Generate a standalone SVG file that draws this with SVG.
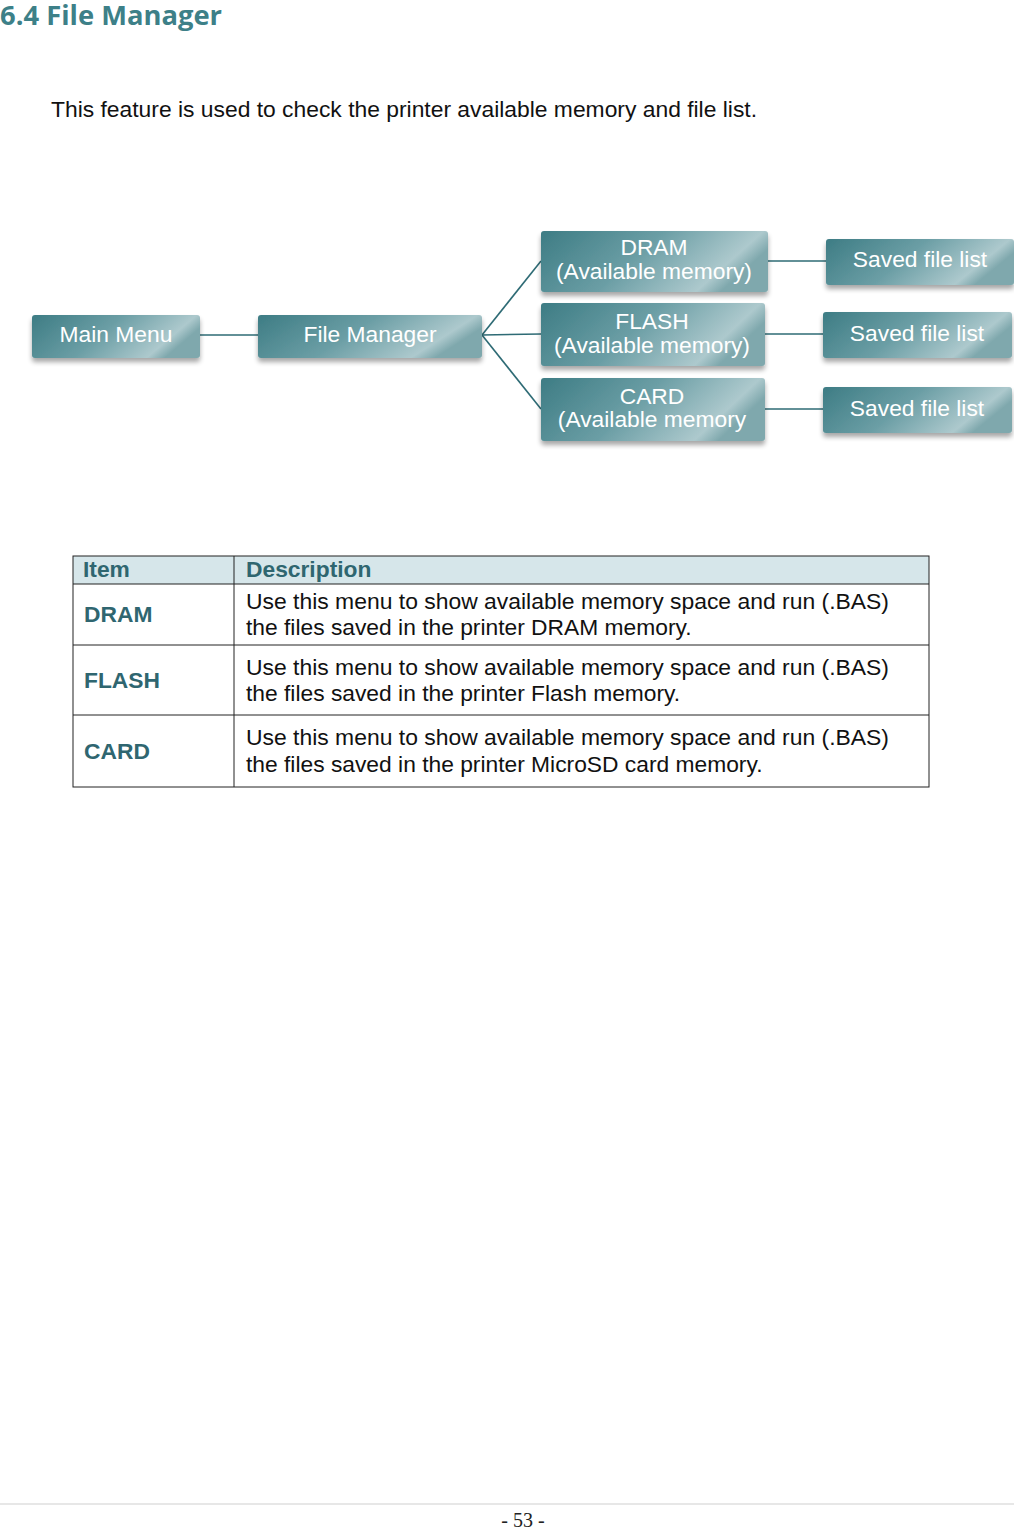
<svg xmlns="http://www.w3.org/2000/svg" width="1014" height="1529" viewBox="0 0 1014 1529">
<style>
.title{font-family:"Open Sans","DejaVu Sans",sans-serif;font-weight:700;font-size:26px;fill:#3d8088}
.body{font-family:"Liberation Sans",Arial,sans-serif;font-size:22.8px;fill:#111}
.bt{font-family:"Liberation Sans",Arial,sans-serif;font-size:22.8px;fill:#ffffff;text-anchor:middle}
.box{fill:url(#g);filter:url(#sh)}
.conn{stroke:#2e6b75;stroke-width:1.6;fill:none}
.th{font-family:"Liberation Sans",Arial,sans-serif;font-weight:700;font-size:22.8px;fill:#2f6670}
.td{font-family:"Liberation Sans",Arial,sans-serif;font-size:22.8px;fill:#111}
.grid{stroke:#222;stroke-width:1;fill:none}
</style>
<defs>
<linearGradient id="g" x1="0" y1="0" x2="1" y2="0.3">
<stop offset="0" stop-color="#3d7c84"/>
<stop offset="0.5" stop-color="#6b9ea5"/>
<stop offset="0.9" stop-color="#adc9cd"/>
<stop offset="1" stop-color="#7fa8ad"/>
</linearGradient>
<filter id="sh" x="-10%" y="-20%" width="120%" height="160%">
<feGaussianBlur in="SourceAlpha" stdDeviation="2.5"/>
<feOffset dx="0" dy="4" result="b"/>
<feComponentTransfer><feFuncA type="linear" slope="0.35"/></feComponentTransfer>
<feMerge><feMergeNode/><feMergeNode in="SourceGraphic"/></feMerge>
</filter>
</defs>
<rect width="1014" height="1529" fill="#fff"/>
<text class="title" x="0" y="25" textLength="222" lengthAdjust="spacingAndGlyphs">6.4 File Manager</text>
<text class="body" x="51" y="117" textLength="706" lengthAdjust="spacingAndGlyphs">This feature is used to check the printer available memory and file list.</text>

<g id="connectors">
<line class="conn" x1="200" y1="335" x2="258" y2="335"/>
<line class="conn" x1="482" y1="335" x2="541" y2="261"/>
<line class="conn" x1="482" y1="335" x2="541" y2="334"/>
<line class="conn" x1="482" y1="335" x2="541" y2="409"/>
<line class="conn" x1="768" y1="261" x2="826" y2="261"/>
<line class="conn" x1="765" y1="334" x2="823" y2="334"/>
<line class="conn" x1="765" y1="409" x2="823" y2="409"/>
</g>

<g id="main-menu"><rect class="box" x="32" y="315" width="168" height="43" rx="3"/><text class="bt" x="116" y="342">Main Menu</text></g>
<g id="file-manager"><rect class="box" x="258" y="315" width="224" height="43" rx="3"/><text class="bt" x="370" y="342">File Manager</text></g>
<g id="dram"><rect class="box" x="541" y="231" width="227" height="61" rx="3"/><text class="bt" x="654" y="255">DRAM</text><text class="bt" x="654" y="279">(Available memory)</text></g>
<g id="flash"><rect class="box" x="541" y="303" width="224" height="63" rx="3"/><text class="bt" x="652" y="329">FLASH</text><text class="bt" x="652" y="353">(Available memory)</text></g>
<g id="card"><rect class="box" x="541" y="378" width="224" height="63" rx="3"/><text class="bt" x="652" y="404">CARD</text><text class="bt" x="652" y="427">(Available memory</text></g>
<g id="saved-1"><rect class="box" x="826" y="239" width="188" height="46" rx="3"/><text class="bt" x="920" y="267">Saved file list</text></g>
<g id="saved-2"><rect class="box" x="823" y="312" width="189" height="46" rx="3"/><text class="bt" x="917" y="341">Saved file list</text></g>
<g id="saved-3"><rect class="box" x="823" y="387" width="189" height="46" rx="3"/><text class="bt" x="917" y="416">Saved file list</text></g>

<g id="table">
<rect x="73" y="556" width="856" height="28" fill="#d6e6ea"/>
<rect class="grid" x="73" y="556" width="856" height="231"/>
<line class="grid" x1="234" y1="556" x2="234" y2="787"/>
<line class="grid" x1="73" y1="584" x2="929" y2="584"/>
<line class="grid" x1="73" y1="645" x2="929" y2="645"/>
<line class="grid" x1="73" y1="715" x2="929" y2="715"/>
<text class="th" x="83" y="577">Item</text>
<text class="th" x="246" y="577">Description</text>
<text class="th" x="84" y="622">DRAM</text>
<text class="td" x="246" y="609" textLength="643" lengthAdjust="spacingAndGlyphs">Use this menu to show available memory space and run (.BAS)</text>
<text class="td" x="246" y="635">the files saved in the printer DRAM memory.</text>
<text class="th" x="84" y="688">FLASH</text>
<text class="td" x="246" y="675" textLength="643" lengthAdjust="spacingAndGlyphs">Use this menu to show available memory space and run (.BAS)</text>
<text class="td" x="246" y="701">the files saved in the printer Flash memory.</text>
<text class="th" x="84" y="759">CARD</text>
<text class="td" x="246" y="745" textLength="643" lengthAdjust="spacingAndGlyphs">Use this menu to show available memory space and run (.BAS)</text>
<text class="td" x="246" y="772">the files saved in the printer MicroSD card memory.</text>
</g>

<line x1="0" y1="1504" x2="1014" y2="1504" stroke="#cfcfcf" stroke-width="1"/>
<text x="523" y="1527" text-anchor="middle" font-family="Liberation Serif,serif" font-size="20" fill="#222">- 53 -</text>
</svg>
